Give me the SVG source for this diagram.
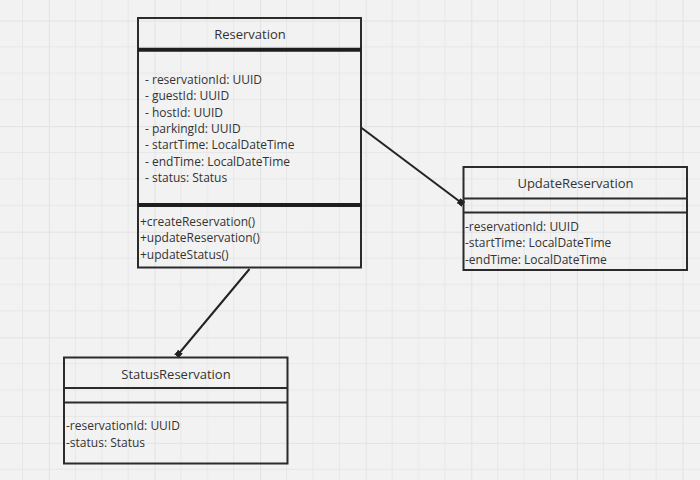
<svg xmlns="http://www.w3.org/2000/svg" width="700" height="480" viewBox="0 0 700 480">
<style>
.box{fill:none;stroke:#2b2b2b;stroke-width:2}
.sep{stroke:#2b2b2b;stroke-width:2}
.thick{stroke:#1e1e1e;stroke-width:4}
.t{font-family:"Open Sans","Noto Sans",sans-serif;font-size:12px;fill:#333}
.title{font-family:"Open Sans","Noto Sans",sans-serif;font-size:13px;fill:#333;text-anchor:middle}
.conn{stroke:#222;stroke-width:2;fill:none}
</style>
<defs>
<pattern id="grid" patternUnits="userSpaceOnUse" width="105.6" height="105.6" x="48.9" y="20.5">
<path d="M26.4 0V105.6M52.8 0V105.6M79.2 0V105.6M0 26.4H105.6M0 52.8H105.6M0 79.2H105.6" stroke="#e7e7e7" stroke-width="1"/>
<path d="M0 0V105.6M0 0H105.6" stroke="#e2e2e2" stroke-width="2"/>
</pattern>
<marker id="sq" markerWidth="6" markerHeight="6" refX="3" refY="3" markerUnits="userSpaceOnUse" orient="auto">
<rect x="0" y="0" width="6" height="6" fill="#222"/>
</marker>
</defs>
<rect width="700" height="480" fill="#f2f2f2"/>
<rect width="700" height="480" fill="url(#grid)"/>

<g id="connectors">
<line class="conn" x1="361" y1="127.5" x2="461" y2="202.5" marker-end="url(#sq)"/>
<line class="conn" x1="249.5" y1="269" x2="178.5" y2="354" marker-end="url(#sq)"/>
</g>

<g id="Reservation">
<rect class="box" x="138" y="18" width="223" height="249.5"/>
<line class="thick" x1="138" y1="49.7" x2="361" y2="49.7"/>
<line class="thick" x1="138" y1="205" x2="361" y2="205"/>
<text class="title" x="250" y="38.5">Reservation</text>
<text class="t" x="145" y="84">- reservationId: UUID</text>
<text class="t" x="145" y="100.3">- guestId: UUID</text>
<text class="t" x="145" y="116.6">- hostId: UUID</text>
<text class="t" x="145" y="132.9">- parkingId: UUID</text>
<text class="t" x="145" y="149.2">- startTime: LocalDateTime</text>
<text class="t" x="145" y="165.5">- endTime: LocalDateTime</text>
<text class="t" x="145" y="181.8">- status: Status</text>
<text class="t" x="140" y="226">+createReservation()</text>
<text class="t" x="140" y="242.3">+updateReservation()</text>
<text class="t" x="140" y="258.6">+updateStatus()</text>
</g>

<g id="UpdateReservation">
<rect class="box" x="463.5" y="167" width="223.5" height="103"/>
<line class="sep" x1="463.5" y1="198.5" x2="687" y2="198.5"/>
<line class="sep" x1="463.5" y1="212.5" x2="687" y2="212.5"/>
<text class="title" x="575.5" y="188">UpdateReservation</text>
<text class="t" x="465" y="231">-reservationId: UUID</text>
<text class="t" x="465" y="247.3">-startTime: LocalDateTime</text>
<text class="t" x="465" y="263.6">-endTime: LocalDateTime</text>
</g>

<g id="StatusReservation">
<rect class="box" x="64" y="357.5" width="223.5" height="106"/>
<line class="sep" x1="64" y1="388" x2="287.5" y2="388"/>
<line class="sep" x1="64" y1="402.5" x2="287.5" y2="402.5"/>
<text class="title" x="176" y="378.5">StatusReservation</text>
<text class="t" x="66" y="430.3">-reservationId: UUID</text>
<text class="t" x="66" y="446.6">-status: Status</text>
</g>
</svg>
